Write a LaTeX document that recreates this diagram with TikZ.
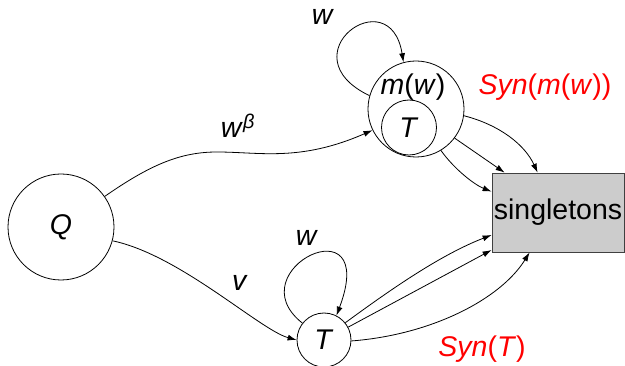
\documentclass[tikz,border=0pt]{standalone}
\usepackage{fontspec}
\setmainfont{Liberation Sans}
\usetikzlibrary{arrows.meta}
\definecolor{boxgray}{HTML}{CCCCCC}
\begin{document}
\begin{tikzpicture}[x=1pt,y=-1pt,
  every node/.style={font=\fontsize{28.5}{31}\selectfont},
  state/.style={draw,circle,line width=0.8pt,inner sep=0pt},
  conn/.style={line width=0.8pt,-{Latex[length=9pt,width=6pt]}},
  red label/.style={text=red}]
\useasboundingbox (0,0) rectangle (625,366);
\node[state,minimum size=106pt] (Q) at (61,227) {\textit{Q}};
\node[state,minimum size=96pt] (mw) at (416,109) {};
\node (mwtext) at (413,87) {\textit{m}(\textit{w})};
\node[state,minimum size=55pt] (Tin) at (409,127.5) {\textit{T}};
\node[state,minimum size=54pt] (T) at (324,340) {\textit{T}};
\node[draw=black!75,fill=boxgray,line width=0.8pt,minimum width=132pt,minimum height=79pt,inner sep=0pt] (sing) at (558,212.5) {singletons};
% labels
\node (lwb) at (238,126) {\textit{w}\textsuperscript{\textit{β}}};
\node (lv) at (240,283) {\textit{v}};
\node (lw1) at (323,17) {\textit{w}};
\node (lw2) at (307,238) {\textit{w}};
\node[red label] (lsm) at (545,87) {\textit{Syn}(\textit{m}(\textit{w}))};
\node[red label] (lst) at (482,349) {\textit{Syn}(\textit{T})};
% Q edges
\draw[conn] (Q.35) .. controls (150,165) and (180,152) .. (217,152)
  .. controls (260,152) and (300,162) .. (mw.206);
\draw[conn] (Q.-15) .. controls (180,255) and (260,330) .. (T.west);
% self loops
\draw[conn] (mw.164) .. controls (285,55) and (390,-22) .. (mw.105);
\draw[conn] (T.142) .. controls (235,270) and (380,200) .. (T.63);
% m(w) -> singletons
\draw[conn] (mw.-8) .. controls (500,125) and (525,145) .. ([xshift=46pt]sing.north west);
\draw[conn] (mw.-37) -- ([xshift=13pt]sing.north west);
\draw[conn] (mw.-59) .. controls (455,170) and (475,185) .. ([yshift=-19pt]sing.north west);
% T -> singletons
\draw[conn] (T.39) .. controls (390,290) and (440,255) .. ([yshift=-22.5pt]sing.west);
\draw[conn] (T.28) -- ([yshift=-37.5pt]sing.west);
\draw[conn] (T.-2) .. controls (430,335) and (500,300) .. ([xshift=38pt]sing.south west);
\end{tikzpicture}
\end{document}
